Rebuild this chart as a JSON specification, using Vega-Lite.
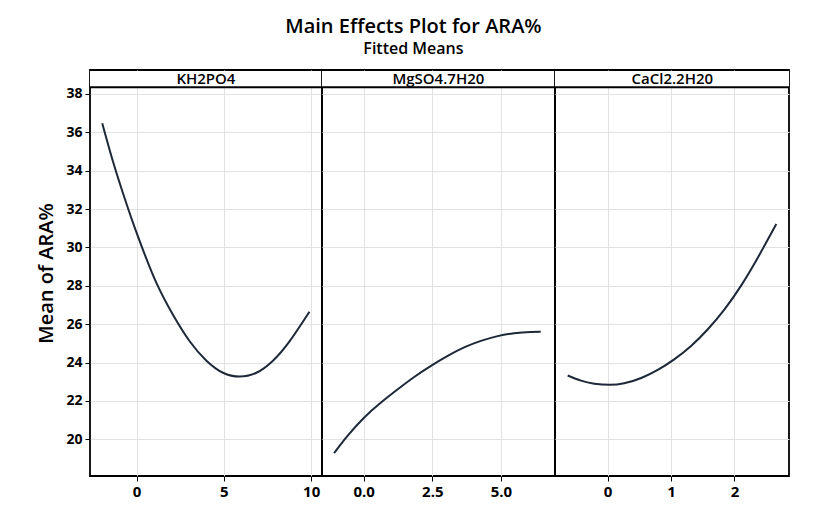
{
  "$schema": "https://vega.github.io/schema/vega-lite/v6.json",
  "background": "white",
  "padding": {"left": 36, "top": 17, "right": 10, "bottom": 5},
  "bounds": "flush",
  "title": {
    "text": "Main Effects Plot for ARA%",
    "subtitle": "Fitted Means",
    "anchor": "middle",
    "font": "Open Sans",
    "fontSize": 20,
    "fontWeight": 600,
    "color": "black",
    "subtitleFont": "Open Sans",
    "subtitleFontSize": 16,
    "subtitleFontWeight": 600,
    "subtitleColor": "black",
    "subtitlePadding": 4,
    "offset": 12
  },
  "datasets": {
    "kh": [
      {"x": -1.97, "y": 36.48}, {"x": -1.34, "y": 34.44}, {"x": -0.77, "y": 32.8},
      {"x": -0.19, "y": 31.24}, {"x": 0.38, "y": 29.84}, {"x": 1.14, "y": 28.14},
      {"x": 2.09, "y": 26.48}, {"x": 3.05, "y": 25.1}, {"x": 4.0, "y": 24.1},
      {"x": 4.95, "y": 23.47}, {"x": 5.9, "y": 23.27}, {"x": 6.86, "y": 23.47},
      {"x": 7.81, "y": 24.1}, {"x": 8.77, "y": 25.12}, {"x": 9.9, "y": 26.65}
    ],
    "mg": [
      {"x": -1.08, "y": 19.28}, {"x": -0.59, "y": 20.18}, {"x": 0.02, "y": 21.14},
      {"x": 0.63, "y": 21.92}, {"x": 1.24, "y": 22.61}, {"x": 1.84, "y": 23.25},
      {"x": 2.45, "y": 23.83}, {"x": 3.06, "y": 24.35}, {"x": 3.66, "y": 24.79},
      {"x": 4.27, "y": 25.13}, {"x": 4.88, "y": 25.38}, {"x": 5.48, "y": 25.53},
      {"x": 6.09, "y": 25.6}, {"x": 6.45, "y": 25.61}
    ],
    "ca": [
      {"x": -0.63, "y": 23.33}, {"x": -0.42, "y": 23.06}, {"x": -0.21, "y": 22.9},
      {"x": 0.03, "y": 22.84}, {"x": 0.26, "y": 22.92}, {"x": 0.53, "y": 23.2},
      {"x": 0.79, "y": 23.62}, {"x": 1.05, "y": 24.17}, {"x": 1.32, "y": 24.88},
      {"x": 1.58, "y": 25.74}, {"x": 1.84, "y": 26.76}, {"x": 2.11, "y": 28.04},
      {"x": 2.37, "y": 29.48}, {"x": 2.66, "y": 31.22}
    ]
  },
  "spacing": 0,
  "hconcat": [
    {
      "width": 232,
      "height": 406,
      "layer": [
        {
          "data": {"name": "kh"},
          "mark": {"type": "line", "color": "#1d2838", "strokeWidth": 2, "interpolate": "natural"},
          "encoding": {
            "x": {"field": "x", "type": "quantitative",
                  "scale": {"domain": [-2.67, 10.62], "nice": false, "zero": false},
                  "axis": {"values": [0, 5, 10], "format": "d", "title": null}},
            "y": {"field": "y", "type": "quantitative",
                  "scale": {"domain": [18.09, 39.25], "nice": false, "zero": false},
                  "axis": {"values": [20, 22, 24, 26, 28, 30, 32, 34, 36, 38], "title": "Mean of ARA%", "titlePadding": 9, "labelFontSize": 14}}
          }
        },
        {
          "data": {"values": [{"label": "KH2PO4"}]},
          "mark": {"type": "rect", "fill": "white"},
          "encoding": {"y": {"datum": 38.35}, "y2": {"datum": 39.2}}
        },
        {
          "data": {"values": [{"label": "KH2PO4"}]},
          "mark": {"type": "rule", "color": "black", "strokeWidth": 1.8},
          "encoding": {"y": {"datum": 38.35}}
        },
        {
          "data": {"values": [{"label": "KH2PO4"}]},
          "mark": {"type": "text", "font": "Open Sans", "fontSize": 15, "fontWeight": 600, "color": "black", "baseline": "middle"},
          "encoding": {"text": {"field": "label"}, "x": {"datum": 3.97}, "y": {"datum": 38.8}}
        }
      ]
    },
    {
      "width": 233,
      "height": 406,
      "layer": [
        {
          "data": {"name": "mg"},
          "mark": {"type": "line", "color": "#1d2838", "strokeWidth": 2, "interpolate": "natural"},
          "encoding": {
            "x": {"field": "x", "type": "quantitative",
                  "scale": {"domain": [-1.52, 6.97], "nice": false, "zero": false},
                  "axis": {"values": [0, 2.5, 5], "format": ".1f", "title": null}},
            "y": {"field": "y", "type": "quantitative",
                  "scale": {"domain": [18.09, 39.25], "nice": false, "zero": false},
                  "axis": {"values": [20, 22, 24, 26, 28, 30, 32, 34, 36, 38], "title": null, "labels": false, "ticks": false, "tickSize": 0, "labelPadding": 0, "minExtent": 0, "maxExtent": 0, "offset": 0}}
          }
        },
        {
          "data": {"values": [{"label": "MgSO4.7H20"}]},
          "mark": {"type": "rect", "fill": "white"},
          "encoding": {"y": {"datum": 38.35}, "y2": {"datum": 39.2}}
        },
        {
          "data": {"values": [{"label": "MgSO4.7H20"}]},
          "mark": {"type": "rule", "color": "black", "strokeWidth": 1.8},
          "encoding": {"y": {"datum": 38.35}}
        },
        {
          "data": {"values": [{"label": "MgSO4.7H20"}]},
          "mark": {"type": "text", "font": "Open Sans", "fontSize": 15, "fontWeight": 600, "color": "black", "baseline": "middle"},
          "encoding": {"text": {"field": "label"}, "x": {"datum": 2.72}, "y": {"datum": 38.8}}
        }
      ]
    },
    {
      "width": 234,
      "height": 406,
      "layer": [
        {
          "data": {"name": "ca"},
          "mark": {"type": "line", "color": "#1d2838", "strokeWidth": 2, "interpolate": "natural"},
          "encoding": {
            "x": {"field": "x", "type": "quantitative",
                  "scale": {"domain": [-0.83, 2.86], "nice": false, "zero": false},
                  "axis": {"values": [0, 1, 2], "format": "d", "title": null}},
            "y": {"field": "y", "type": "quantitative",
                  "scale": {"domain": [18.09, 39.25], "nice": false, "zero": false},
                  "axis": {"values": [20, 22, 24, 26, 28, 30, 32, 34, 36, 38], "title": null, "labels": false, "ticks": false, "tickSize": 0, "labelPadding": 0, "minExtent": 0, "maxExtent": 0, "offset": 0}}
          }
        },
        {
          "data": {"values": [{"label": "CaCl2.2H20"}]},
          "mark": {"type": "rect", "fill": "white"},
          "encoding": {"y": {"datum": 38.35}, "y2": {"datum": 39.2}}
        },
        {
          "data": {"values": [{"label": "CaCl2.2H20"}]},
          "mark": {"type": "rule", "color": "black", "strokeWidth": 1.8},
          "encoding": {"y": {"datum": 38.35}}
        },
        {
          "data": {"values": [{"label": "CaCl2.2H20"}]},
          "mark": {"type": "text", "font": "Open Sans", "fontSize": 15, "fontWeight": 600, "color": "black", "baseline": "middle"},
          "encoding": {"text": {"field": "label"}, "x": {"datum": 1.02}, "y": {"datum": 38.8}}
        }
      ]
    }
  ],
  "config": {
    "view": {"stroke": "black", "strokeWidth": 1.8},
    "axis": {
      "domain": false,
      "grid": true,
      "gridColor": "#e2e2e2",
      "gridWidth": 1,
      "tickColor": "black",
      "tickSize": 5,
      "labelFont": "Open Sans",
      "labelFontSize": 15,
      "labelFontWeight": "bold",
      "labelColor": "black",
      "labelPadding": 3,
      "titleFont": "Open Sans",
      "titleFontSize": 20,
      "titleFontWeight": 600,
      "titleColor": "black"
    }
  }
}
